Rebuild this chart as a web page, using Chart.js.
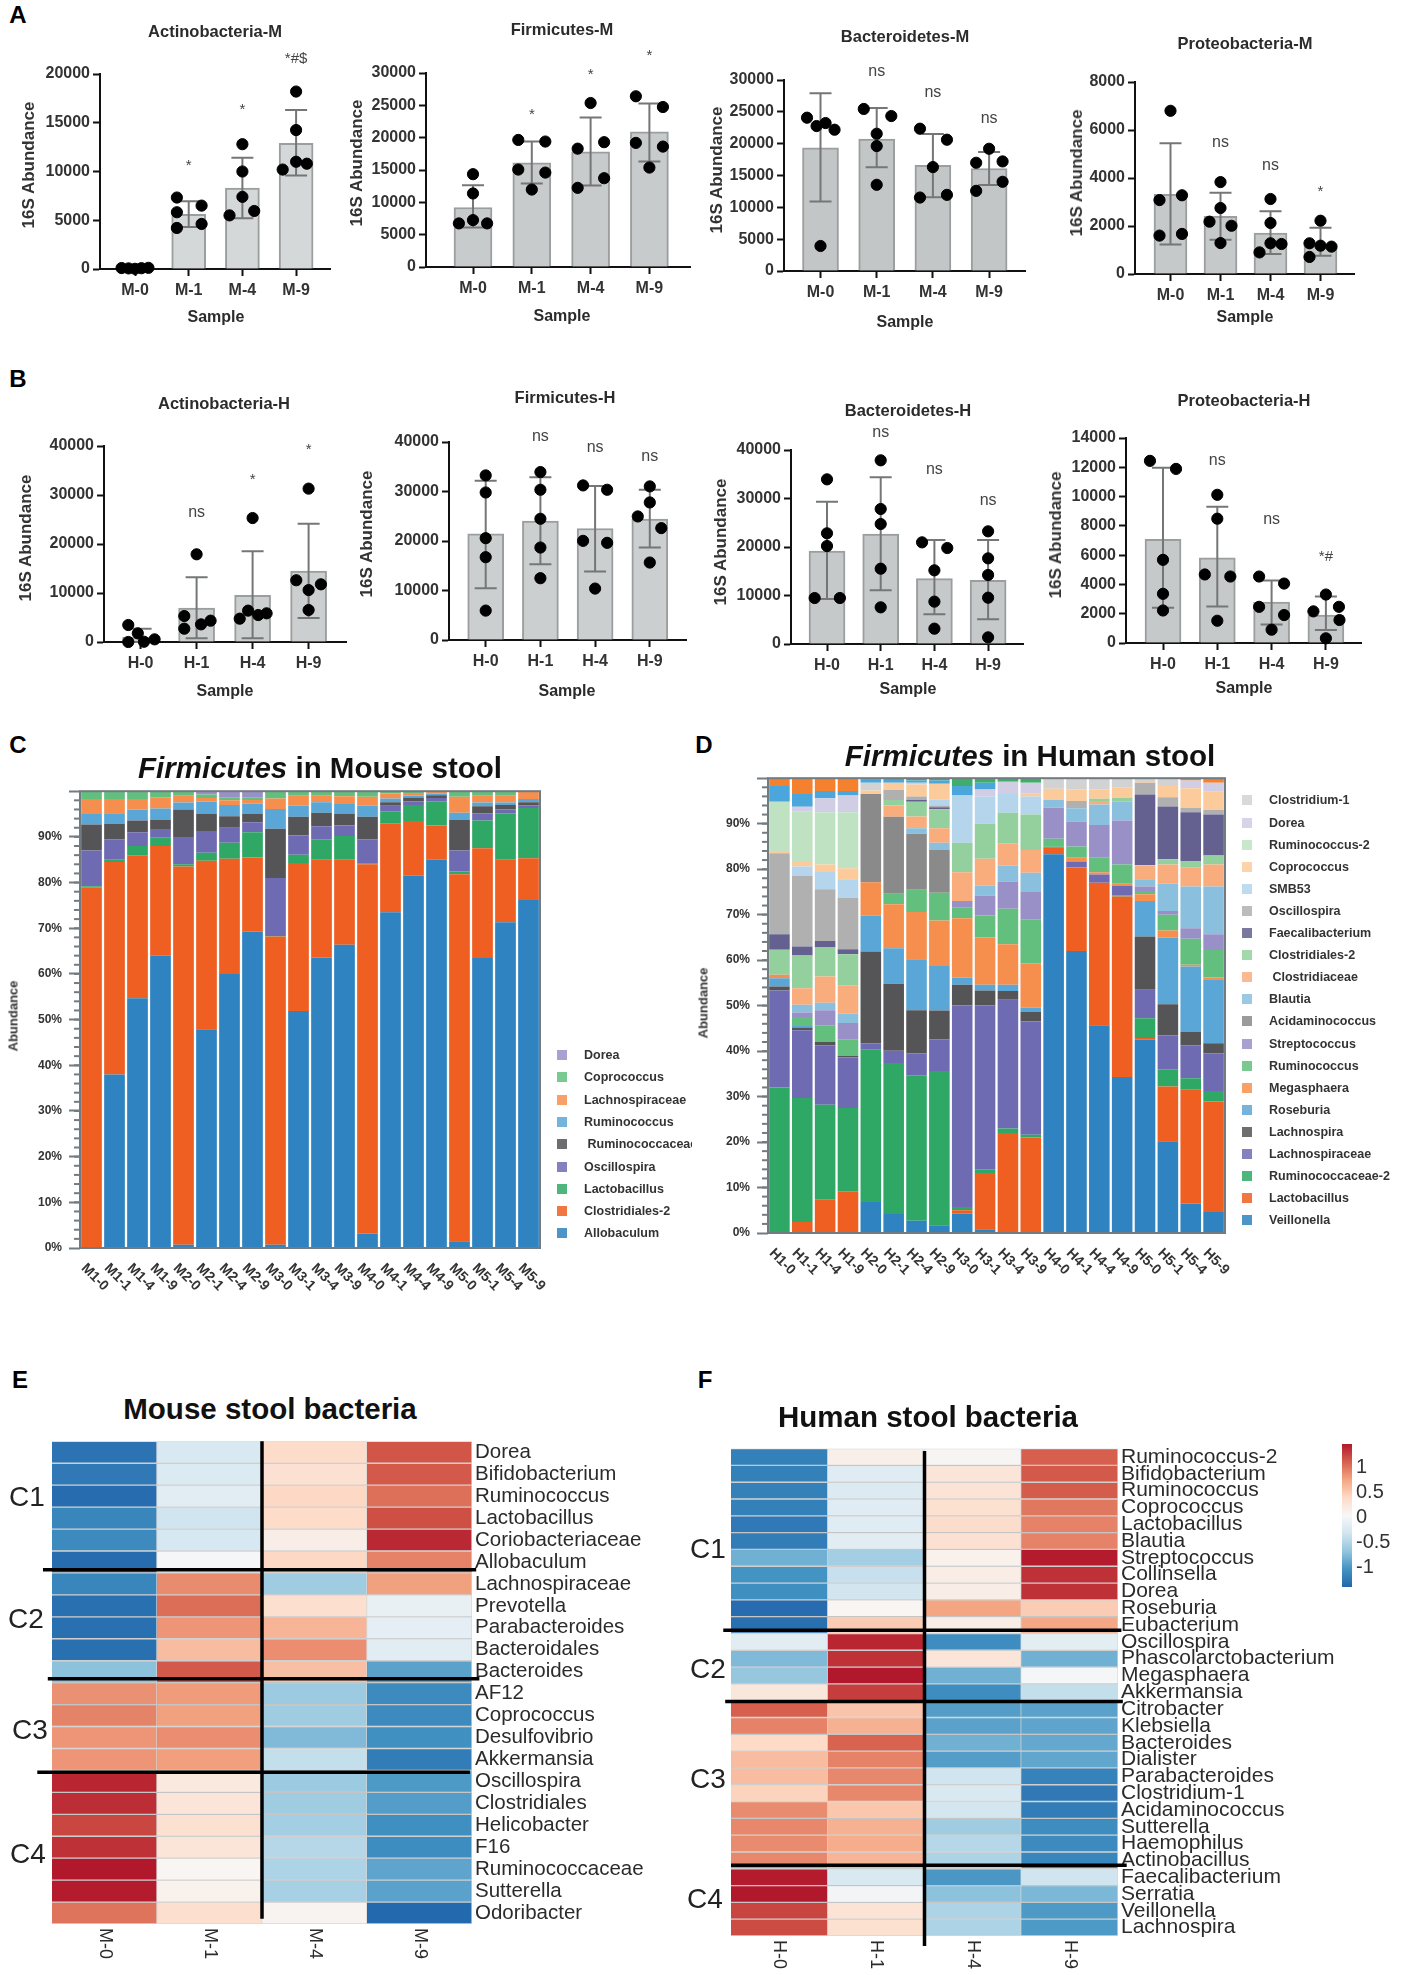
<!DOCTYPE html>
<html>
<head>
<meta charset="utf-8">
<title>Stool bacteria abundance</title>
<script src="https://cdn.jsdelivr.net/npm/chart.js@4/dist/chart.umd.min.js"></script>
<style>
  html, body { margin: 0; padding: 0; background: #fff; }
  #page { position: relative; width: 1402px; height: 1975px; overflow: hidden; font-family: "Liberation Sans", Arial, sans-serif; }
  #page canvas { position: absolute; }
  .txt { position: absolute; white-space: pre; line-height: 1; }
</style>
</head>
<body>
<div id="page"></div>
<script>
// ---- Panel A: mouse phyla ----
const mouseGroups = ["M-0", "M-1", "M-4", "M-9"];
const humanGroups = ["H-0", "H-1", "H-4", "H-9"];

const actinoMMeans = [100, 5600, 8300, 12900];
const actinoMLow = [0, 4300, 5200, 9600];
const actinoMHigh = [200, 6950, 11400, 16300];
const actinoMPoints = [[0.75, 100], [0.88, 60], [1, 20], [1.12, 80], [1.25, 120],
  [1.78, 7330], [1.78, 5820], [1.78, 4210], [2.24, 6500], [2.24, 4620],
  [3, 12800], [3, 10000], [3, 7400], [2.76, 5500], [3.22, 5950],
  [4, 18200], [4, 14250], [3.75, 10200], [4, 11000], [4.2, 10800]];
const actinoMSigText = ["", "*", "*", "*#$"];
const actinoMSigY = [0, 10580, 16300, 21600];

const firmiMMeans = [9200, 16100, 17800, 20900];
const firmiMLow = [6100, 12900, 12600, 16300];
const firmiMHigh = [12650, 19400, 23100, 25300];
const firmiMPoints = [[1, 14350], [1, 11370], [0.76, 6740], [1, 7250], [1.24, 6740],
  [1.77, 19650], [2.23, 19400], [1.77, 15070], [2.23, 14600], [2, 11980],
  [2.78, 18300], [3.23, 19300], [3, 25360], [2.78, 12240], [3.23, 13730],
  [3.77, 26400], [4.23, 24740], [3.77, 19190], [4.23, 18620], [4, 15380]];
const firmiMSigText = ["", "*", "*", "*"];
const firmiMSigY = [0, 23600, 29650, 32700];

const bacteroMMeans = [19360, 20720, 16580, 16100];
const bacteroMLow = [10900, 16300, 11600, 13500];
const bacteroMHigh = [27900, 25600, 21500, 18700];
const bacteroMPoints = [[0.76, 24080], [0.93, 22770], [1.09, 23240], [1.25, 22190], [1, 3930],
  [1.77, 25450], [2.26, 24340], [2, 21560], [2, 19620], [2, 13540],
  [2.77, 22350], [3.25, 20620], [3, 16320], [2.77, 11540], [3.25, 11960],
  [4, 19200], [3.77, 17000], [4.24, 17210], [3.77, 12590], [4.24, 14010]];
const bacteroMSigText = ["", "ns", "ns", "ns"];
const bacteroMSigY = [0, 31300, 28000, 24000];

const proteoMMeans = [3320, 2400, 1710, 1240];
const proteoMLow = [1230, 1430, 830, 760];
const proteoMHigh = [5450, 3390, 2610, 1930];
const proteoMPoints = [[1, 6800], [0.78, 3080], [1.23, 3280], [0.78, 1600], [1.23, 1670],
  [2, 3830], [2, 2750], [1.78, 2180], [2.22, 2010], [2, 1290],
  [3, 3125], [3, 2125], [2.78, 900], [3, 1280], [3.22, 1250],
  [4, 2220], [3.78, 1280], [4, 1180], [4.22, 1140], [3.78, 710]];
const proteoMSigText = ["", "ns", "ns", "*"];
const proteoMSigY = [0, 5470, 4500, 3430];

// ---- Panel B: human phyla ----
const actinoHMeans = [1000, 6940, 9520, 14490];
const actinoHLow = [0, 750, 750, 4900];
const actinoHHigh = [2700, 13200, 18500, 24150];
const actinoHPoints = [[0.78, 3470], [0.95, 1770], [0.78, 0], [1.06, 50], [1.25, 540],
  [1.78, 5300], [1.78, 2720], [2.08, 3600], [2.25, 4350], [2, 17900],
  [3, 25300], [2.77, 4760], [2.92, 6400], [3.1, 5500], [3.25, 5850],
  [4, 31300], [3.78, 12600], [4, 10600], [4.22, 11770], [4, 6530]];
const actinoHSigText = ["", "ns", "*", "*"];
const actinoHSigY = [0, 26400, 33060, 39180];

const firmiHMeans = [21450, 24010, 22530, 24420];
const firmiHLow = [10460, 15300, 13830, 18680];
const firmiHHigh = [32180, 32900, 31100, 30350];
const firmiHPoints = [[1, 33250], [1, 29800], [1, 20570], [1, 16730], [1, 5940],
  [2, 33930], [2, 30350], [2, 24490], [2, 18680], [2, 12480],
  [2.78, 31230], [3.22, 30350], [2.78, 20030], [3.22, 19630], [3, 10390],
  [4, 31030], [4, 27790], [3.78, 24960], [4.21, 22600], [4, 15650]];
const firmiHSigText = ["", "ns", "ns", "ns"];
const firmiHSigY = [0, 41150, 38860, 36970];

const bacteroHMeans = [19180, 22680, 13470, 13130];
const bacteroHLow = [9280, 11070, 6120, 5090];
const bacteroHHigh = [29350, 34360, 21440, 21440];
const bacteroHPoints = [[1, 33950], [1, 22820], [1, 20200], [0.77, 9480], [1.24, 9480],
  [2, 37870], [2, 27840], [2, 24740], [2, 15530], [2, 7560],
  [2.77, 20960], [3.24, 19790], [3, 15190], [3, 8730], [3, 3160],
  [4, 23230], [4, 17660], [4, 14230], [4, 9550], [4, 1370]];
const bacteroHSigText = ["", "ns", "ns", "ns"];
const bacteroHSigY = [0, 43570, 35880, 29480];

const proteoHMeans = [7080, 5810, 2790, 1910];
const proteoHLow = [2400, 2500, 1270, 885];
const proteoHHigh = [11960, 9300, 4270, 3180];
const proteoHPoints = [[0.76, 12440], [1.24, 11890], [1, 5680], [1, 3360], [1, 2220],
  [2, 10120], [2, 8490], [1.77, 4680], [2.24, 4540], [2, 1520],
  [2.77, 4540], [3.23, 4060], [2.77, 2470], [3.23, 1910], [3, 910],
  [4, 3310], [4.24, 2470], [3.77, 2160], [4.25, 1570], [4, 320]];
const proteoHSigText = ["", "ns", "ns", "*#"];
const proteoHSigY = [0, 12490, 8450, 5900];

// ---- Panel C: upper edge (%) of each genus in the stacked bars ----
const mouseSamples = ["M1-0", "M1-1", "M1-4", "M1-9", "M2-0", "M2-1", "M2-4", "M2-9", "M3-0", "M3-1",
  "M3-4", "M3-9", "M4-0", "M4-1", "M4-4", "M4-9", "M5-0", "M5-1", "M5-4", "M5-9"];
const mouseAllobaculum = [0, 38, 54.7, 64, 0.7, 47.9, 60, 69.3, 0.7, 51.9, 63.6, 66.4, 3.2, 73.5, 81.5, 85, 1.5, 63.5, 71.3, 76.2];
const mouseClostridiales2 = [79, 84.5, 86, 88, 83.5, 84.8, 85.2, 85.5, 68.2, 84.3, 85, 85, 84, 93, 93.5, 92.5, 81.8, 87.5, 85, 85.3];
const mouseLactobacillus = [79.2, 85, 88, 89.8, 84, 86.5, 88.7, 91, 68.3, 86.1, 89.5, 90.2, 84.1, 95.6, 97, 97.8, 82.4, 93.6, 95.2, 96.3];
const mouseOscillospira = [87, 89.5, 91, 91.7, 90, 91.3, 92, 93.2, 81, 90.3, 92.3, 92.5, 89.5, 96.8, 97.8, 98.5, 87, 95.2, 96, 96.9];
const mouseRuminococcaceae = [92.7, 92.8, 93.6, 93.7, 96, 95, 94.5, 95, 91.8, 94.4, 95.3, 95, 94.4, 97.6, 98.6, 99.1, 93.7, 96.7, 97, 97.6];
const mouseRuminococcus = [95, 95.2, 96, 96.2, 97.5, 97.7, 97, 97.3, 96.1, 96.8, 97.6, 97.2, 96.8, 98.4, 99, 99.5, 95.3, 97.5, 97.5, 98.3];
const mouseLachnospiraceae = [98.3, 98.3, 98.3, 98.7, 99, 98.5, 98, 98.1, 98.4, 99, 99, 98.9, 98.8, 99.5, 99.6, 99.9, 98.8, 99, 99, 100];
const mouseCoprococcus = [100, 100, 100, 100, 100, 99.3, 98.7, 98.7, 100, 100, 100, 100, 100, 99.8, 99.8, 100, 100, 100, 100, 100];
const mouseDorea = [100, 100, 100, 100, 100, 100, 100, 100, 100, 100, 100, 100, 100, 100, 100, 100, 100, 100, 100, 100];
const mouseLegend = ["Dorea", "Coprococcus", "Lachnospiraceae", "Ruminococcus", " Ruminococcaceae", "Oscillospira", "Lactobacillus", "Clostridiales-2", "Allobaculum"];
const mouseLegendColors = ["#9a90c8", "#63bf7e", "#f68f4e", "#5aa6d6", "#555558", "#6e6bb3", "#2fa866", "#ef5f21", "#2e83c0"];

// ---- Panel D: upper edge (%) of each genus in the stacked bars ----
const humanSamples = ["H1-0", "H1-1", "H1-4", "H1-9", "H2-0", "H2-1", "H2-4", "H2-9", "H3-0", "H3-1",
  "H3-4", "H3-9", "H4-0", "H4-1", "H4-4", "H4-9", "H5-0", "H5-1", "H5-4", "H5-9"];
const humanVeillonella = [0, 0, 0, 0, 6.8, 4.2, 2.7, 1.7, 4.3, 0.8, 0, 0, 83.3, 62, 45.7, 34.3, 42.5, 20.2, 6.5, 4.6];
const humanLactobacillus = [0, 2.4, 7.3, 9.2, 6.8, 4.2, 2.7, 1.7, 5, 13.2, 22, 21, 84.7, 80.3, 77, 74, 42.9, 32.2, 31.5, 28.9];
const humanRuminococcaceae2 = [32, 29.7, 28.2, 27.5, 40.3, 37.4, 34.7, 35.6, 5.7, 14, 23, 21.6, 84.9, 80.4, 77, 74.2, 47.2, 36, 34, 31.2];
const humanLachnospiraceae = [53.3, 44.6, 41.3, 38.6, 41.7, 40.1, 39.5, 42.6, 50, 50, 51.3, 46.5, 84.9, 81.7, 78.8, 76.3, 53.5, 43.5, 41.3, 39.5];
const humanLachnospira = [54.2, 45.2, 42, 39, 61.9, 54.8, 49, 48.9, 54.6, 53.3, 53.2, 48.6, 84.9, 81.7, 78.8, 76.3, 65.2, 50.3, 44.2, 41.7];
const humanRoseburia = [56, 45.5, 42, 39, 69.8, 62.6, 60.2, 58.7, 56.2, 54.6, 54.6, 49.6, 84.9, 81.7, 78.8, 76.3, 73, 65, 58.6, 55.8];
const humanMegasphaera = [56.8, 45.5, 42, 39, 77.1, 72.3, 70.6, 68.7, 69.2, 65, 63.5, 59.3, 84.9, 82.5, 79.3, 76.8, 74.5, 66.5, 59, 56.2];
const humanRuminococcus = [56.8, 47.5, 45.7, 42.5, 77.1, 74.6, 75.5, 74.8, 71.5, 69.8, 71.3, 69, 86.7, 85, 82.5, 81, 75.2, 70, 64.7, 62.2];
const humanStreptococcus = [56.8, 48.5, 49, 46.2, 77.1, 74.6, 75.5, 74.8, 73, 74.2, 77.3, 75, 93.5, 90.5, 89.7, 90.7, 76.2, 70.8, 67, 65.7];
const humanAcidaminococcus = [56.8, 48.5, 49, 46.2, 96.5, 91.5, 87.8, 84.2, 73, 74.2, 77.3, 75, 93.5, 90.5, 89.7, 90.7, 76.2, 70.8, 67, 65.7];
const humanBlautia = [56.8, 50.2, 50.6, 48.2, 96.5, 91.5, 89, 85.8, 73, 76.4, 80.8, 79.2, 95.2, 93.4, 94.2, 94.8, 77.8, 76.8, 76.2, 76.2];
const humanClostridiaceae = [56.8, 53.8, 56.4, 54.5, 96.5, 94, 91.6, 89, 79.3, 82.3, 85.7, 84.2, 95.2, 93.4, 95, 94.8, 80.8, 81, 80.3, 81];
const humanClostridiales2 = [62.3, 61, 62.8, 61.3, 96.5, 95.2, 94.8, 93.2, 85.8, 90, 92.4, 92, 95.2, 93.4, 95.5, 95.7, 80.9, 82.2, 81.8, 83];
const humanFaecalibacterium = [65.7, 63, 64.2, 62.4, 96.5, 95.2, 95.2, 93.6, 85.8, 90, 92.4, 92, 95.2, 93.4, 95.5, 95.7, 96.4, 93.8, 92.5, 92];
const humanOscillospira = [83.5, 78.5, 75.6, 73.7, 96.5, 97.4, 96, 94, 85.8, 90, 92.4, 92, 95.2, 95, 95.5, 95.7, 99, 95.8, 93.5, 93];
const humanSMB53 = [83.5, 80.6, 79.4, 77.8, 96.5, 97.4, 96, 95.3, 96.2, 96, 96.5, 96, 95.2, 95, 95.5, 95.7, 99, 95.8, 93.5, 93];
const humanCoprococcus = [84, 81.8, 81, 80.2, 97.3, 99, 98.6, 98.8, 96.2, 96, 96.5, 96.6, 97.7, 97.5, 97.5, 98, 99.4, 98.5, 97.8, 97];
const humanRuminococcus2 = [94.8, 92.6, 92.5, 92.5, 97.3, 99, 98.6, 98.8, 96.2, 96, 96.5, 96.6, 97.7, 97.5, 97.5, 98, 99.4, 98.5, 97.8, 97];
const humanDorea = [94.8, 93.7, 95.6, 96.2, 97.3, 99, 99, 98.8, 96.2, 97.5, 99.2, 99, 97.7, 97.5, 97.5, 98, 99.4, 98.5, 99.5, 99];
const humanClostridium1 = [94.8, 93.7, 95.6, 96.2, 99, 99, 99, 98.8, 96.2, 97.5, 99.2, 99, 100, 100, 100, 100, 100, 100, 99.5, 99];
// unlabelled genera above the legend's last entry
const humanOtherBlue = [98.3, 96.5, 97.2, 97.2, 99.6, 99.8, 99.5, 99.5, 98.3, 99, 99.2, 99, 100, 100, 100, 100, 100, 100, 99.5, 99];
const humanOtherOrange = [100, 100, 100, 100, 99.8, 99.8, 99.5, 99.5, 98.3, 99, 99.2, 99, 100, 100, 100, 100, 100, 100, 100, 100];
const humanOtherGreen = [100, 100, 100, 100, 100, 100, 100, 100, 100, 100, 100, 100, 100, 100, 100, 100, 100, 100, 100, 100];
const humanLegend = ["Clostridium-1", "Dorea", "Ruminococcus-2", "Coprococcus", "SMB53", "Oscillospira", "Faecalibacterium", "Clostridiales-2", " Clostridiaceae", "Blautia",
  "Acidaminococcus", "Streptococcus", "Ruminococcus", "Megasphaera", "Roseburia", "Lachnospira", "Lachnospiraceae", "Ruminococcaceae-2", "Lactobacillus", "Veillonella"];
const humanLegendColors = ["#d2d2d2", "#d0cde5", "#bfe3c2", "#fbcb9b", "#b4d5ec", "#b0b0b0", "#64608f", "#93d09e", "#f9ad7c", "#8ac0de",
  "#8a8a8a", "#9a90c8", "#63bf7e", "#f68f4e", "#5aa6d6", "#555558", "#6e6bb3", "#2fa866", "#ef5f21", "#2e83c0"];

// ---- Panel E: heatmap z-scores ----
const mouseTaxa = ["Dorea", "Bifidobacterium", "Ruminococcus", "Lactobacillus", "Coriobacteriaceae", "Allobaculum", "Lachnospiraceae", "Prevotella", "Parabacteroides", "Bacteroidales", "Bacteroides",
  "AF12", "Coprococcus", "Desulfovibrio", "Akkermansia", "Oscillospira", "Clostridiales", "Helicobacter", "F16", "Ruminococcaceae", "Sutterella", "Odoribacter"];
const mouseZ0 = [-1.3, -1.25, -1.35, -1.15, -1.12, -1.35, -1.15, -1.32, -1.32, -1.32, -0.72, 0.8, 0.87, 0.78, 0.78, 1.33, 1.3, 1.17, 1.28, 1.4, 1.38, 0.95];
const mouseZ1 = [-0.28, -0.25, -0.2, -0.35, -0.3, -0.02, 0.83, 0.98, 0.78, 0.55, 1.08, 0.75, 0.72, 0.82, 0.73, 0.18, 0.22, 0.28, 0.22, 0.03, 0.08, 0.3];
const mouseZ4 = [0.33, 0.27, 0.36, 0.33, 0.12, 0.36, -0.62, 0.3, 0.6, 0.82, 0.53, -0.65, -0.62, -0.78, -0.42, -0.65, -0.62, -0.6, -0.5, -0.55, -0.58, 0.05];
const mouseZ9 = [1.1, 1.08, 0.97, 1.13, 1.32, 0.88, 0.72, -0.14, -0.17, -0.2, -0.95, -1.12, -1.12, -1.07, -1.22, -1.0, -0.98, -1.08, -1.1, -0.93, -0.95, -1.38];
const mouseClusters = ["C1", "C2", "C3", "C4"];

// ---- Panel F: heatmap z-scores ----
const humanTaxa = ["Ruminococcus-2", "Bifidobacterium", "Ruminococcus", "Coprococcus", "Lactobacillus", "Blautia", "Streptococcus", "Collinsella", "Dorea", "Roseburia", "Eubacterium",
  "Oscillospira", "Phascolarctobacterium", "Megasphaera", "Akkermansia", "Citrobacter", "Klebsiella", "Bacteroides", "Dialister", "Parabacteroides", "Clostridium-1",
  "Acidaminococcus", "Sutterella", "Haemophilus", "Actinobacillus", "Faecalibacterium", "Serratia", "Veillonella", "Lachnospira"];
const humanZ0 = [-1.2, -1.2, -1.2, -1.2, -1.25, -1.22, -0.85, -1.05, -1.08, -1.35, -1.32, -0.2, -0.78, -0.68, 0.2, 1.05, 0.88, 0.35, 0.55, 0.55, 0.4, 0.83, 0.85, 0.83, 0.85, 1.38, 1.42, 1.18, 1.15];
const humanZ1 = [0.1, -0.22, -0.25, -0.22, -0.22, -0.2, -0.6, -0.4, -0.33, 0.03, 0.45, 1.33, 1.28, 1.4, 1.22, 0.5, 0.62, 1.03, 0.88, 0.85, 0.85, 0.48, 0.62, 0.65, 0.6, -0.28, -0.05, 0.25, 0.28];
const humanZ4 = [0.02, 0.22, 0.24, 0.28, 0.32, 0.27, 0.08, 0.13, 0.12, 0.7, 0.12, -1.1, 0.22, -0.85, -1.1, -0.98, -0.95, -0.85, -0.98, -0.35, -0.28, -0.32, -0.62, -0.5, -0.55, -1.02, -0.72, -0.55, -0.55];
const humanZ9 = [1.05, 1.08, 1.07, 0.93, 0.88, 0.88, 1.38, 1.28, 1.28, 0.45, 0.68, -0.18, -0.85, -0.02, -0.42, -0.95, -0.93, -0.9, -0.92, -1.18, -1.25, -1.22, -1.1, -1.12, -1.15, -0.35, -0.8, -1.0, -1.0];
const humanClusters = ["C1", "C2", "C3", "C4"];

// Colour scale of the heatmaps, from -1.4 to +1.4
const zStops = ["#2166ac", "#4393c3", "#92c5de", "#d1e5f0", "#f7f7f7", "#fddbc7", "#f4a582", "#d6604d", "#b2182b"];
const zBarTicks = [1, 0.5, 0, -0.5, -1];

const page = document.getElementById("page");
const fontName = '"Liberation Sans", Arial, sans-serif';

function hexToRgb(hex) {
  return [1, 3, 5].map((i) => parseInt(hex.slice(i, i + 2), 16));
}

function zColor(z) {
  const pos = Math.min(Math.max((z + 1.4) / 0.35, 0), zStops.length - 1);
  const low = Math.floor(pos);
  const high = Math.min(low + 1, zStops.length - 1);
  const a = hexToRgb(zStops[low]);
  const b = hexToRgb(zStops[high]);
  const t = pos - low;
  return `rgb(${a.map((v, i) => Math.round(v + (b[i] - v) * t)).join(",")})`;
}

// Real text placed on the page, centred on x,y
function addText(text, x, y, font, options = {}) {
  const el = document.createElement("div");
  el.className = "txt";
  el.innerHTML = text;
  el.style.font = `${font} ${fontName}`;
  el.style.color = options.color || "#2b2b2b";
  el.style.left = x + "px";
  el.style.top = y + "px";
  const anchorX = options.anchor === "left" ? "0" : "-50%";
  el.style.transform = `translate(${anchorX}, -50%) rotate(${options.rotate || 0}deg)`;
  if (options.maxWidth) {
    el.style.width = options.maxWidth + "px";
    el.style.overflow = "hidden";
  }
  page.appendChild(el);
}

// Canvas around a plot rectangle; axis boxes take exactly the margins so chartArea equals the rectangle
function makeCanvas(plot, margins) {
  const [left, top, right, bottom] = plot;
  const [mLeft, mTop, mRight, mBottom] = margins;
  const canvas = document.createElement("canvas");
  canvas.width = right - left + mLeft + mRight;
  canvas.height = bottom - top + mTop + mBottom;
  canvas.style.left = left - mLeft + "px";
  canvas.style.top = top - mTop + "px";
  page.appendChild(canvas);
  return canvas.getContext("2d");
}

// Error bars are drawn between bars and points
const errorBarsPlugin = {
  id: "errorBars",
  afterDatasetDraw(chart, args, opts) {
    if (args.index !== 0) return;
    const { ctx, scales } = chart;
    ctx.save();
    ctx.strokeStyle = "#757777";
    ctx.lineWidth = 2;
    opts.low.forEach((low, i) => {
      const x = scales.x.getPixelForValue(i + 1);
      const yLow = scales.y.getPixelForValue(low);
      const yHigh = scales.y.getPixelForValue(opts.high[i]);
      ctx.beginPath();
      ctx.moveTo(x, yLow);
      ctx.lineTo(x, yHigh);
      ctx.moveTo(x - 11, yLow);
      ctx.lineTo(x + 11, yLow);
      ctx.moveTo(x - 11, yHigh);
      ctx.lineTo(x + 11, yHigh);
      ctx.stroke();
    });
    ctx.restore();
  },
};

// "ns" and star marks above the groups
const significancePlugin = {
  id: "significance",
  afterDraw(chart, args, opts) {
    const { ctx, scales } = chart;
    ctx.save();
    ctx.textAlign = "center";
    ctx.textBaseline = "middle";
    ctx.fillStyle = "#444";
    opts.text.forEach((text, i) => {
      if (!text) return;
      ctx.font = `${text === "ns" ? 16 : 15}px ${fontName}`;
      ctx.fillText(text, scales.x.getPixelForValue(i + 1), scales.y.getPixelForValue(opts.y[i]));
    });
    ctx.restore();
  },
};

function abundanceChart(panel) {
  const { plot, firstX, stepX, yMax, yStep, barWidth, barFill, groups } = panel;
  const ctx = makeCanvas(plot, [72, 50, 12, 44]);
  const axisColor = "#111";
  const tickFont = { family: fontName, size: 16, weight: "bold" };
  return new Chart(ctx, {
    type: "bar",
    data: {
      datasets: [
        {
          data: panel.means.map((y, i) => ({ x: i + 1, y })),
          backgroundColor: barFill,
          borderColor: "#9b9e9e",
          borderWidth: 2,
          barThickness: barWidth,
          order: 2,
        },
        {
          type: "scatter",
          data: panel.points.map(([x, y]) => ({ x, y })),
          backgroundColor: "#000",
          borderColor: "#000",
          pointRadius: 5.6,
          clip: false,
          order: 1,
        },
      ],
    },
    options: {
      responsive: false,
      animation: false,
      layout: { padding: { top: 50, right: 12, left: 0, bottom: 0 } },
      plugins: {
        legend: { display: false },
        tooltip: { enabled: false },
        errorBars: { low: panel.low, high: panel.high },
        significance: { text: panel.sigText, y: panel.sigY },
      },
      scales: {
        x: {
          type: "linear",
          offset: false,
          min: 1 - (firstX - plot[0]) / stepX,
          max: 1 + (plot[2] - firstX) / stepX,
          afterBuildTicks(scale) {
            scale.ticks = groups.map((g, i) => ({ value: i + 1 }));
          },
          afterFit(scale) {
            scale.height = 44;
          },
          grid: { offset: false, drawOnChartArea: false, tickLength: 7, tickWidth: 2, tickColor: axisColor },
          border: { color: axisColor, width: 2 },
          ticks: {
            autoSkip: false,
            maxRotation: 0,
            padding: 5,
            color: "#333",
            font: tickFont,
            callback: (value) => groups[value - 1],
          },
        },
        y: {
          min: 0,
          max: yMax,
          afterFit(scale) {
            scale.width = 72;
          },
          grid: { drawOnChartArea: false, tickLength: 7, tickWidth: 2, tickColor: axisColor },
          border: { color: axisColor, width: 2 },
          ticks: { stepSize: yStep, padding: 3, color: "#333", font: tickFont, format: { useGrouping: false } },
        },
      },
    },
    plugins: [errorBarsPlugin, significancePlugin],
  });
}

const phylumPanels = [
  { plot: [100, 74, 330, 269], firstX: 135, stepX: 53.7, yMax: 20000, yStep: 5000, barWidth: 34, barFill: "#d5d8d8", groups: mouseGroups,
    means: actinoMMeans, low: actinoMLow, high: actinoMHigh, points: actinoMPoints, sigText: actinoMSigText, sigY: actinoMSigY },
  { plot: [426, 73, 690, 267], firstX: 473, stepX: 58.8, yMax: 30000, yStep: 5000, barWidth: 38, barFill: "#c8cbcb", groups: mouseGroups,
    means: firmiMMeans, low: firmiMLow, high: firmiMHigh, points: firmiMPoints, sigText: firmiMSigText, sigY: firmiMSigY },
  { plot: [784, 80, 1025, 271], firstX: 820.5, stepX: 56.2, yMax: 30000, yStep: 5000, barWidth: 36, barFill: "#c3c6c6", groups: mouseGroups,
    means: bacteroMMeans, low: bacteroMLow, high: bacteroMHigh, points: bacteroMPoints, sigText: bacteroMSigText, sigY: bacteroMSigY },
  { plot: [1135, 82, 1354, 274], firstX: 1170.5, stepX: 50, yMax: 8000, yStep: 2000, barWidth: 33, barFill: "#c6c9c9", groups: mouseGroups,
    means: proteoMMeans, low: proteoMLow, high: proteoMHigh, points: proteoMPoints, sigText: proteoMSigText, sigY: proteoMSigY },
  { plot: [104, 446, 346, 642], firstX: 140.6, stepX: 56, yMax: 40000, yStep: 10000, barWidth: 36, barFill: "#cccfcf", groups: humanGroups,
    means: actinoHMeans, low: actinoHLow, high: actinoHHigh, points: actinoHPoints, sigText: actinoHSigText, sigY: actinoHSigY },
  { plot: [449, 442, 686, 640], firstX: 485.7, stepX: 54.7, yMax: 40000, yStep: 10000, barWidth: 36, barFill: "#cccfcf", groups: humanGroups,
    means: firmiHMeans, low: firmiHLow, high: firmiHHigh, points: firmiHPoints, sigText: firmiHSigText, sigY: firmiHSigY },
  { plot: [791, 450, 1023, 644], firstX: 827, stepX: 53.7, yMax: 40000, yStep: 10000, barWidth: 36, barFill: "#c6c9c9", groups: humanGroups,
    means: bacteroHMeans, low: bacteroHLow, high: bacteroHHigh, points: bacteroHPoints, sigText: bacteroHSigText, sigY: bacteroHSigY },
  { plot: [1126, 438, 1361, 643], firstX: 1163, stepX: 54.3, yMax: 14000, yStep: 2000, barWidth: 36, barFill: "#c6c9c9", groups: humanGroups,
    means: proteoHMeans, low: proteoHLow, high: proteoHHigh, points: proteoHPoints, sigText: proteoHSigText, sigY: proteoHSigY },
];
phylumPanels.forEach(abundanceChart);

// Minor ticks, frame and the slanted sample names of the stacked charts
const stackFramePlugin = {
  id: "stackFrame",
  afterDraw(chart) {
    const { ctx, chartArea, scales } = chart;
    ctx.save();
    ctx.strokeStyle = "#727b80";
    ctx.lineWidth = 2;
    ctx.strokeRect(chartArea.left, chartArea.top, chartArea.right - chartArea.left, chartArea.bottom - chartArea.top);
    for (let v = 2; v < 100; v += 2) {
      const y = scales.y.getPixelForValue(v);
      ctx.beginPath();
      ctx.moveTo(chartArea.left - 6, y);
      ctx.lineTo(chartArea.left, y);
      ctx.stroke();
    }
    ctx.fillStyle = "#333";
    ctx.font = `bold 14px ${fontName}`;
    ctx.textAlign = "left";
    ctx.textBaseline = "middle";
    scales.x.ticks.forEach((tick, i) => {
      ctx.save();
      ctx.translate(scales.x.getPixelForTick(i) - 8, chartArea.bottom + 18);
      ctx.rotate(Math.PI / 4);
      ctx.fillText(scales.x.getLabelForValue(tick.value), 0, 0);
      ctx.restore();
    });
    ctx.restore();
  },
};

// seriesTops are cumulative, so each segment is the difference with the one below
function stackChart(plot, samples, seriesTops, colors) {
  const ctx = makeCanvas(plot, [75, 10, 20, 60]);
  return new Chart(ctx, {
    type: "bar",
    data: {
      labels: samples,
      datasets: seriesTops.map((tops, s) => ({
        data: tops.map((top, i) => top - (s > 0 ? seriesTops[s - 1][i] : 0)),
        backgroundColor: colors[s],
        barPercentage: 0.9,
        categoryPercentage: 1,
      })),
    },
    options: {
      responsive: false,
      animation: false,
      layout: { padding: { top: 10, right: 20, left: 0, bottom: 60 } },
      plugins: { legend: { display: false }, tooltip: { enabled: false } },
      scales: {
        x: {
          stacked: true,
          afterFit(scale) {
            scale.height = 0;
          },
          grid: { display: false },
          border: { display: false },
          ticks: { display: false, autoSkip: false },
        },
        y: {
          stacked: true,
          min: 0,
          max: 100,
          afterFit(scale) {
            scale.width = 75;
          },
          grid: { drawOnChartArea: false, tickLength: 11, tickWidth: 2, tickColor: "#727b80" },
          border: { display: false },
          ticks: {
            stepSize: 10,
            padding: 7,
            color: "#333",
            font: { family: fontName, size: 12, weight: "bold" },
            callback: (value) => (value === 100 ? "" : value + "%"),
          },
        },
      },
    },
    plugins: [stackFramePlugin],
  });
}

stackChart([80, 787, 540, 1248], mouseSamples,
  [mouseAllobaculum, mouseClostridiales2, mouseLactobacillus, mouseOscillospira, mouseRuminococcaceae, mouseRuminococcus, mouseLachnospiraceae, mouseCoprococcus, mouseDorea],
  ["#2e83c0", "#ef5f21", "#2fa866", "#6e6bb3", "#555558", "#5aa6d6", "#f68f4e", "#63bf7e", "#9a90c8"]);

stackChart([768, 774, 1225, 1233], humanSamples,
  [humanVeillonella, humanLactobacillus, humanRuminococcaceae2, humanLachnospiraceae, humanLachnospira, humanRoseburia, humanMegasphaera, humanRuminococcus,
    humanStreptococcus, humanAcidaminococcus, humanBlautia, humanClostridiaceae, humanClostridiales2, humanFaecalibacterium, humanOscillospira, humanSMB53,
    humanCoprococcus, humanRuminococcus2, humanDorea, humanClostridium1, humanOtherBlue, humanOtherOrange, humanOtherGreen],
  ["#2e83c0", "#ef5f21", "#2fa866", "#6e6bb3", "#555558", "#5aa6d6", "#f68f4e", "#63bf7e",
    "#9a90c8", "#8a8a8a", "#8ac0de", "#f9ad7c", "#93d09e", "#64608f", "#b0b0b0", "#b4d5ec",
    "#fbcb9b", "#bfe3c2", "#d0cde5", "#d2d2d2", "#4ba6dc", "#f5812f", "#3fae6a"]);

// Black cluster separators and column names of the heatmaps
const heatmapMarksPlugin = {
  id: "heatmapMarks",
  afterDraw(chart, args, opts) {
    const { ctx, scales, chartArea } = chart;
    ctx.save();
    ctx.strokeStyle = "#000";
    ctx.lineWidth = 3.5;
    opts.rowLines.forEach(([row, from, to]) => {
      const y = scales.y.getPixelForValue(row - 0.5);
      ctx.beginPath();
      ctx.moveTo(scales.x.getPixelForValue(from), y);
      ctx.lineTo(scales.x.getPixelForValue(to), y);
      ctx.stroke();
    });
    const x = scales.x.getPixelForValue(2);
    ctx.beginPath();
    ctx.moveTo(x, scales.y.getPixelForValue(opts.columnLine[0] - 0.5));
    ctx.lineTo(x, scales.y.getPixelForValue(opts.columnLine[1] - 0.5));
    ctx.stroke();
    ctx.fillStyle = "#2b2b2b";
    ctx.font = `18px ${fontName}`;
    ctx.textAlign = "left";
    ctx.textBaseline = "middle";
    opts.columns.forEach((name, i) => {
      ctx.save();
      ctx.translate(scales.x.getPixelForValue(i + 0.5), chartArea.bottom + 4);
      ctx.rotate(Math.PI / 2);
      ctx.fillText(name, 0, 0);
      ctx.restore();
    });
    ctx.restore();
  },
};

function heatmapChart(plot, margins, taxa, columns, zColumns, rowLines, columnLine, labelSize) {
  const ctx = makeCanvas(plot, margins);
  const [mLeft, mTop, mRight, mBottom] = margins;
  return new Chart(ctx, {
    type: "bar",
    data: {
      labels: taxa,
      datasets: zColumns.map((z, c) => ({
        label: columns[c],
        data: taxa.map(() => 1),
        backgroundColor: z.map(zColor),
        borderColor: "rgba(120,120,120,0.3)",
        borderWidth: 1,
        barPercentage: 1,
        categoryPercentage: 1,
      })),
    },
    options: {
      indexAxis: "y",
      responsive: false,
      animation: false,
      layout: { padding: { left: mLeft, top: mTop, right: 0, bottom: mBottom } },
      plugins: {
        legend: { display: false },
        tooltip: { enabled: false },
        heatmapMarks: { rowLines, columnLine, columns },
      },
      scales: {
        x: { stacked: true, min: 0, max: 4, display: false },
        y: {
          stacked: true,
          position: "right",
          afterFit(scale) {
            scale.width = mRight;
          },
          grid: { display: false, drawTicks: false },
          border: { display: false },
          ticks: { autoSkip: false, padding: 3, color: "#2b2b2b", font: { family: fontName, size: labelSize } },
        },
      },
    },
    plugins: [heatmapMarksPlugin],
  });
}

heatmapChart([52, 1436, 472, 1924], [52, 10, 228, 51], mouseTaxa, mouseGroups, [mouseZ0, mouseZ1, mouseZ4, mouseZ9],
  [[5.85, -0.086, 4.04], [10.82, -0.04, 4.07], [15.08, -0.14, 3.98]], [0, 21.76], 20.5);

heatmapChart([731, 1443, 1118, 1936], [41, 10, 284, 39], humanTaxa, humanGroups, [humanZ0, humanZ1, humanZ4, humanZ9],
  [[10.81, -0.08, 4.035], [15.04, -0.06, 4.05], [24.79, 0, 4.09]], [0.15, 29.6], 21);

// ---- Text layer ----
const panelLetters = [["A", 18, 15], ["B", 18, 379], ["C", 18, 745], ["D", 704, 745], ["E", 20, 1380], ["F", 705, 1380]];
panelLetters.forEach(([t, x, y]) => addText(t, x, y, "bold 24px", { color: "#000" }));

const phylumTitles = [
  ["Actinobacteria-M", 215, 31], ["Firmicutes-M", 562, 29], ["Bacteroidetes-M", 905, 36], ["Proteobacteria-M", 1245, 43],
  ["Actinobacteria-H", 224, 403], ["Firmicutes-H", 565, 397], ["Bacteroidetes-H", 908, 410], ["Proteobacteria-H", 1244, 400],
];
phylumTitles.forEach(([t, x, y]) => addText(t, x, y, "bold 16.5px"));

const sampleLabels = [[216, 317], [562, 316], [905, 322], [1245, 317], [225, 691], [567, 691], [908, 689], [1244, 688]];
sampleLabels.forEach(([x, y]) => addText("Sample", x, y, "bold 16px"));

const yTitles = [[29, 165], [357, 163], [717, 170], [1077, 173], [26, 538], [367, 534], [721, 542], [1056, 535]];
yTitles.forEach(([x, y]) => addText("16S Abundance", x, y, "bold 17px", { rotate: -90, color: "#333" }));

addText("<i>Firmicutes</i> in Mouse stool", 320, 768, "bold 29.5px", { color: "#111" });
addText("<i>Firmicutes</i> in Human stool", 1030, 756, "bold 29.5px", { color: "#111" });
addText("Mouse stool bacteria", 270, 1409, "bold 29.5px", { color: "#111" });
addText("Human stool bacteria", 928, 1417, "bold 29.5px", { color: "#111" });

addText("Abundance", 13, 1016, "bold 13px", { rotate: -90, color: "#333" });
addText("Abundance", 703, 1003, "bold 13px", { rotate: -90, color: "#333" });

function addLegend(names, colors, swatchX, textX, firstY, stepY, maxWidth) {
  names.forEach((name, i) => {
    const y = firstY + i * stepY;
    const box = document.createElement("div");
    box.style.cssText = `position:absolute;left:${swatchX - 5}px;top:${y - 5}px;width:10px;height:10px;background:${colors[i]};opacity:0.85`;
    page.appendChild(box);
    addText(name, textX, y, "bold 12.5px", { anchor: "left", color: "#333", maxWidth });
  });
}
addLegend(mouseLegend, mouseLegendColors, 562, 584, 1055, 22.3, 108);
addLegend(humanLegend, humanLegendColors, 1247, 1269, 800.4, 22.1, 133);

function addClusters(names, positions) {
  names.forEach((name, i) => addText(name, positions[i][0], positions[i][1], "28px", { color: "#222" }));
}
addClusters(mouseClusters, [[27, 1497], [26, 1619], [30, 1730], [28, 1854]]);
addClusters(humanClusters, [[708, 1549], [708, 1669], [708, 1779], [705, 1899]]);

// Colour bar of panel F
const colorBar = document.createElement("div");
colorBar.style.cssText = "position:absolute;left:1342px;top:1444px;width:10px;height:143px";
colorBar.style.background = `linear-gradient(to bottom, ${zStops.slice().reverse().join(",")})`;
page.appendChild(colorBar);
zBarTicks.forEach((tick) => {
  addText(String(tick), 1356, 1516 - tick * 49.8, "20px", { anchor: "left", color: "#333" });
});
</script>
</body>
</html>
